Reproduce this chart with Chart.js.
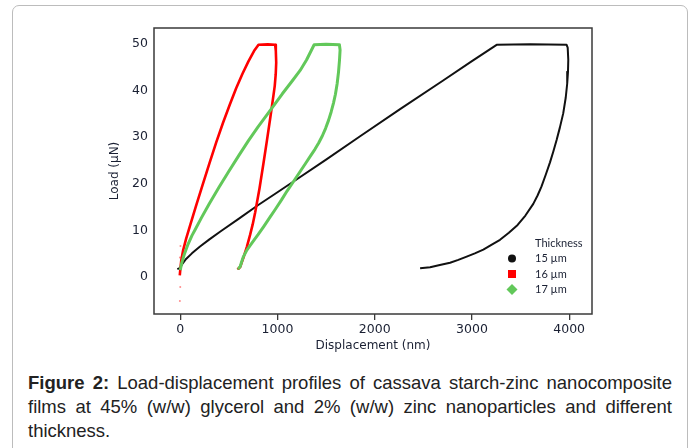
<!DOCTYPE html>
<html>
<head>
<meta charset="utf-8">
<script src="https://cdn.jsdelivr.net/npm/chart.js@4.4.1/dist/chart.umd.min.js"></script>
<style>
    html, body { margin: 0; padding: 0; background: #fff; width: 694px; height: 448px; overflow: hidden; }
    #frame { position: absolute; left: 12px; top: 5px; width: 676px; height: 480px; box-sizing: border-box;
             border: 1.5px solid #bcbcbc; border-radius: 7px; }
    #wrap { position: absolute; left: 0; top: 0; width: 694px; height: 360px; }
    #caption { position: absolute; left: 28px; top: 371px; width: 644px; color: #222;
               font-family: "Liberation Sans", Arial, sans-serif; font-size: 18.5px; line-height: 24px;
               text-align: justify; }
</style>
</head>
<body>
<div id="frame"></div>
<div id="wrap"><canvas id="loadChart" width="694" height="360"></canvas></div>
<div id="caption"><b>Figure 2:</b> Load-displacement profiles of cassava starch-zinc nanocomposite films at 45% (w/w) glycerol and 2% (w/w) zinc nanoparticles and different thickness.</div>

<script>
// tick labels
const xTickValues = [0, 1000, 2000, 3000, 4000];
const yTickValues = [0, 10, 20, 30, 40, 50];

// 15 µm (black): loading, hold, unloading
const disp15 = [-30, 0, 20, 60, 120, 200, 300, 420, 600, 791, 1000, 1165, 1500, 1850, 2261, 2700, 3000, 3254, 3600, 3974,
    3985, 3991, 3988, 3980, 3965, 3939, 3905, 3871, 3838, 3803, 3760, 3715, 3675, 3631, 3550, 3470, 3380, 3289,
    3200, 3117, 3030, 2946, 2860, 2775, 2670, 2570, 2467];
const load15 = [1.7, 2, 2.8, 3.9, 5.1, 6.5, 8.1, 9.9, 12.5, 15.3, 18.2, 20.5, 25.2, 30.2, 36, 42.1, 46.3, 49.8, 49.9, 49.8,
    49.2, 46.6, 44, 41.5, 38.5, 35.1, 32.1, 29.4, 27, 24.6, 22, 19.4, 17.5, 15.7, 13.2, 11.2, 9.5, 8,
    6.9, 5.9, 5.1, 4.4, 3.7, 3.1, 2.6, 2.1, 1.9];

// 16 µm (red)
const disp16 = [-5, 0, 10, 30, 60, 103, 160, 230, 300, 370, 440, 510, 575, 640, 700, 760, 805, 900, 976,
    983, 987, 982, 972, 959, 942, 925, 891, 856, 815, 771, 745, 719, 685, 650, 630, 617, 600, 588];
const load16 = [0.4, 1.5, 3.5, 5.8, 8.2, 11.2, 15.1, 19.8, 24.4, 28.9, 33.1, 37, 40.5, 43.6, 46.2, 48.5, 49.8, 49.9, 49.8,
    48.5, 46, 43.5, 41, 39, 36.5, 34, 29.2, 24.4, 19, 13.9, 11.3, 9.1, 6.5, 4.2, 3, 2.2, 1.8, 2];

// stray red readings near zero displacement
const disp16Stray = [2, -3, 0, -4];
const load16Stray = [6.7, 4.2, -2.1, -5.1];

// 17 µm (green)
const disp17 = [0, 15, 40, 75, 120, 154, 220, 300, 400, 500, 600, 700, 800, 935, 1050, 1161, 1233, 1300, 1377, 1500, 1637,
    1644, 1638, 1628, 1614, 1596, 1576, 1552, 1525, 1495, 1462, 1425, 1385, 1340, 1290, 1235, 1165, 1100, 1040,
    980, 925, 860, 800, 740, 685, 650, 630, 617, 600, 590];
const load17 = [1.5, 3, 4.8, 6.8, 8.9, 10.2, 12.8, 15.8, 19.3, 22.7, 26, 29.2, 32.2, 36, 39.3, 42.3, 44.3, 46.6, 49.8, 49.9, 49.8,
    48.7, 46.5, 44, 41.5, 39.2, 37.3, 35.4, 33.6, 31.9, 30.3, 28.8, 27.4, 26, 24.4, 22.7, 20.5, 18.5, 16.5,
    14.6, 12.9, 10.9, 9.1, 7.4, 5.8, 4.4, 3.2, 2.3, 1.9, 2];

const seriesLabels = ['15 µm', '16 µm', '17 µm'];

const colors = {
    black: '#111111',
    red: '#ff0000',
    green: '#62c85a',
    axis: '#3a3a3a',
    text: '#1a2033'
};

const toPoints = (xs, ys) => xs.map((x, i) => ({ x, y: ys[i] }));

const legendMarks = [
    { color: colors.black, shape: 'circle' },
    { color: colors.red, shape: 'square' },
    { color: colors.green, shape: 'diamond' }
];

const boxAndLegend = {
    id: 'boxAndLegend',
    afterDatasetsDraw(chart) {
        const { ctx, chartArea: a } = chart;
        ctx.save();
        ctx.strokeStyle = colors.axis;
        ctx.lineWidth = 1.5;
        ctx.strokeRect(a.left, a.top, a.right - a.left, a.bottom - a.top);

        // legend inside plot, lower right
        const markX = a.right - 80;
        const textX = a.right - 57;
        let y = a.top + 215;
        ctx.fillStyle = colors.text;
        ctx.font = '11px Lato, "Open Sans", sans-serif';
        ctx.textBaseline = 'middle';
        ctx.fillText('Thickness', textX, y);
        seriesLabels.forEach((label, i) => {
            y += 15.5;
            const m = legendMarks[i];
            ctx.fillStyle = m.color;
            ctx.beginPath();
            if (m.shape === 'circle') {
                ctx.arc(markX, y, 4, 0, Math.PI * 2);
            } else if (m.shape === 'square') {
                ctx.rect(markX - 4, y - 4, 8, 8);
            } else {
                ctx.moveTo(markX, y - 5.5);
                ctx.lineTo(markX + 5.5, y);
                ctx.lineTo(markX, y + 5.5);
                ctx.lineTo(markX - 5.5, y);
                ctx.closePath();
            }
            ctx.fill();
            ctx.fillStyle = colors.text;
            ctx.fillText(label, textX, y);
        });
        ctx.restore();
    }
};

const tickFont = { family: '"DejaVu Sans", sans-serif', size: 12.5 };
const titleFont = { family: '"DejaVu Sans", sans-serif', size: 12 };

new Chart(document.getElementById('loadChart'), {
    type: 'scatter',
    data: {
        datasets: [
            {
                label: seriesLabels[2],
                data: toPoints(disp17, load17),
                showLine: true,
                borderColor: colors.green,
                borderWidth: 3,
                borderJoinStyle: 'round',
                pointRadius: 0,
                tension: 0
            },
            {
                label: seriesLabels[1],
                data: toPoints(disp16, load16),
                showLine: true,
                borderColor: colors.red,
                borderWidth: 2.6,
                borderJoinStyle: 'round',
                pointRadius: 0,
                tension: 0
            },
            {
                label: seriesLabels[1] + ' stray',
                data: toPoints(disp16Stray, load16Stray),
                showLine: false,
                pointRadius: 1,
                pointBorderWidth: 0,
                pointBackgroundColor: 'rgba(255,0,0,0.45)'
            },
            {
                label: seriesLabels[0],
                data: toPoints(disp15, load15),
                showLine: true,
                borderColor: colors.black,
                borderWidth: 2,
                borderJoinStyle: 'round',
                pointRadius: 0,
                tension: 0
            }
        ]
    },
    options: {
        responsive: false,
        animation: false,
        layout: { padding: { left: 104, top: 28, right: 102, bottom: 0 } },
        plugins: { legend: { display: false }, tooltip: { enabled: false } },
        scales: {
            x: {
                type: 'linear',
                min: -270,
                max: 4235,
                afterFit: scale => { scale.height = 46; },
                afterBuildTicks: scale => { scale.ticks = xTickValues.map(v => ({ value: v })); },
                grid: { display: true, drawOnChartArea: false, drawTicks: true, tickLength: 6, color: colors.axis, lineWidth: 1.3 },
                border: { display: false },
                ticks: { color: colors.text, font: tickFont, padding: 2, maxRotation: 0, callback: v => String(v) },
                title: { display: true, text: 'Displacement (nm)', color: colors.text, font: titleFont, padding: { bottom: 7, top: 0 } }
            },
            y: {
                type: 'linear',
                min: -7.9,
                max: 53.4,
                afterFit: scale => { scale.width = 50; },
                afterBuildTicks: scale => { scale.ticks = yTickValues.map(v => ({ value: v })); },
                grid: { display: false, drawTicks: false },
                border: { display: false },
                ticks: { color: colors.text, font: tickFont, padding: 6, callback: v => String(v) },
                title: { display: true, text: 'Load (µN)', color: colors.text, font: titleFont, padding: { top: 4, bottom: 0 } }
            }
        }
    },
    plugins: [boxAndLegend]
});
</script>
</body>
</html>
